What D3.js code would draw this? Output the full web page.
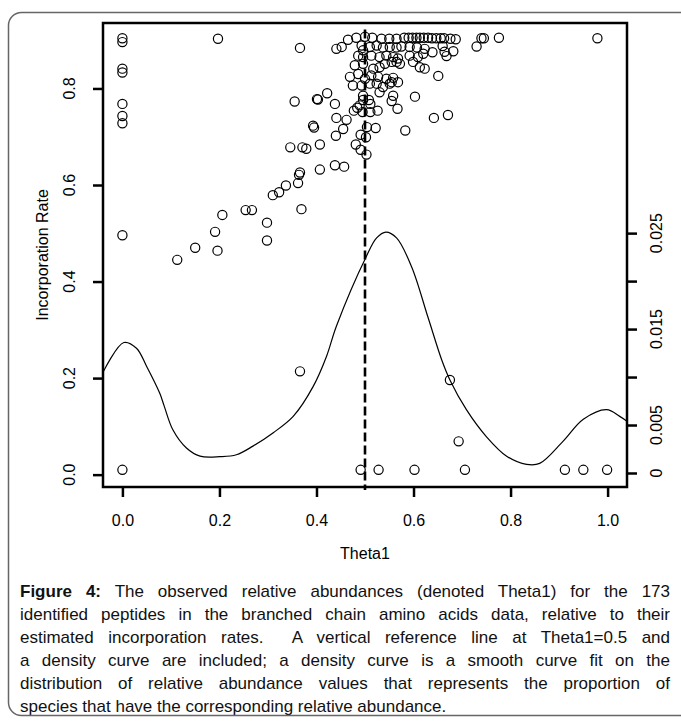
<!DOCTYPE html>
<html>
<head>
<meta charset="utf-8">
<script src="https://cdnjs.cloudflare.com/ajax/libs/d3/7.8.5/d3.min.js"></script>
<style>
  body { margin: 0; background: #fff; }
  #wrap { position: relative; width: 681px; height: 726px; overflow: hidden;
          font-family: "Liberation Sans", Arial, sans-serif; }
  #caption { position: absolute; left: 20px; top: 580px; width: 650px;
             font-size: 17px; line-height: 23px; color: #111; }
  #caption div { text-align: justify; text-align-last: justify; }
  #caption div.last { text-align-last: left; }
</style>
</head>
<body>
<div id="wrap"><div id="caption"></div></div>
<script>
// observed relative abundance (Theta1) and incorporation rate, one entry per peptide
var theta1 = [
  0, 0, 0, 0, 0, 0, 0, 0, 0,
  0.197,
  0.113, 0.150, 0.191, 0.196, 0.206, 0.254, 0.267, 0.298, 0.298, 0.310, 0.323, 0.337, 0.362, 0.364, 0.366, 0.369, 0.366,
  0.346, 0.371, 0.379, 0.407, 0.407, 0.438, 0.457, 0.440, 0.441, 0.438, 0.393, 0.395, 0.355, 0.401, 0.403, 0.366, 0.422,
  0.465, 0.482, 0.500, 0.515, 0.534, 0.550, 0.565, 0.581, 0.590, 0.598, 0.606, 0.613, 0.621, 0.630, 0.638, 0.647, 0.656, 0.663, 0.676, 0.687, 0.730, 0.740, 0.745, 0.776, 0.979,
  0.441, 0.452, 0.493, 0.496, 0.510, 0.524, 0.537, 0.551, 0.565, 0.575, 0.592, 0.607, 0.623, 0.639, 0.660, 0.664, 0.668, 0.682, 0.651,
  0.486, 0.496, 0.513, 0.530, 0.544, 0.558, 0.568, 0.592, 0.609, 0.620,
  0.479, 0.496, 0.517, 0.530, 0.541, 0.555, 0.565, 0.572, 0.599, 0.613, 0.623,
  0.469, 0.486, 0.500, 0.513, 0.527, 0.544, 0.555,
  0.475, 0.493, 0.510, 0.524, 0.537, 0.551, 0.568, 0.558,
  0.496, 0.530, 0.558, 0.603,
  0.477, 0.484, 0.489, 0.496, 0.508, 0.495, 0.511, 0.526, 0.511, 0.555, 0.567, 0.642, 0.462, 0.455, 0.491, 0.502, 0.504, 0.522, 0.583, 0.481, 0.491, 0.503, 0.671,
  0.491, 0.528, 0.602, 0.706, 0.912, 0.950, 0.999, 0.693, 0.675
];
var incorpRate = [
  0.904, 0.896, 0.841, 0.833, 0.768, 0.743, 0.728, 0.496, 0.010,
  0.903,
  0.445, 0.470, 0.503, 0.464, 0.538, 0.548, 0.548, 0.522, 0.485, 0.579, 0.585, 0.599, 0.604, 0.621, 0.626, 0.550, 0.214,
  0.678, 0.678, 0.675, 0.684, 0.632, 0.641, 0.638, 0.702, 0.739, 0.768, 0.723, 0.719, 0.773, 0.778, 0.777, 0.884, 0.790,
  0.901, 0.905, 0.907, 0.905, 0.903, 0.903, 0.903, 0.905, 0.905, 0.905, 0.905, 0.905, 0.905, 0.905, 0.904, 0.904, 0.904, 0.904, 0.903, 0.902, 0.887, 0.904, 0.904, 0.905, 0.904,
  0.882, 0.886, 0.889, 0.879, 0.886, 0.889, 0.885, 0.886, 0.885, 0.887, 0.886, 0.885, 0.882, 0.875, 0.888, 0.876, 0.867, 0.877, 0.826,
  0.868, 0.865, 0.868, 0.865, 0.868, 0.865, 0.862, 0.868, 0.865, 0.872,
  0.848, 0.851, 0.841, 0.844, 0.851, 0.855, 0.855, 0.851, 0.855, 0.844, 0.841,
  0.824, 0.830, 0.820, 0.827, 0.824, 0.820, 0.813,
  0.806, 0.806, 0.810, 0.810, 0.803, 0.810, 0.813, 0.822,
  0.785, 0.792, 0.785, 0.783,
  0.754, 0.760, 0.765, 0.776, 0.776, 0.751, 0.751, 0.754, 0.768, 0.774, 0.758, 0.739, 0.735, 0.716, 0.704, 0.699, 0.720, 0.718, 0.713, 0.684, 0.673, 0.663, 0.745,
  0.010, 0.010, 0.010, 0.010, 0.010, 0.010, 0.010, 0.069, 0.196
];

// density curve of Theta1 (right axis)
var densX = [-0.040, 0.003, 0.029, 0.050, 0.077, 0.086, 0.104, 0.132, 0.160, 0.201, 0.235, 0.269, 0.311, 0.352, 0.393, 0.421, 0.441,
             0.503, 0.524, 0.543, 0.565, 0.596, 0.630, 0.658, 0.675, 0.709, 0.750, 0.792, 0.833, 0.860, 0.908, 0.950, 0.998, 1.025, 1.040];
var densY = [0.0105, 0.0136, 0.0130, 0.0111, 0.0083, 0.0070, 0.0045, 0.0026, 0.00175, 0.0017, 0.0019, 0.0028, 0.0042, 0.0059, 0.0090, 0.0122, 0.0153,
             0.0226, 0.0245, 0.0251, 0.0245, 0.0215, 0.0162, 0.0118, 0.0097, 0.0066, 0.0038, 0.00175, 0.0009, 0.0010, 0.0033, 0.0056, 0.0066, 0.0059, 0.0054];

var xTicks = [0, 0.2, 0.4, 0.6, 0.8, 1.0];
var yTicks = [0, 0.2, 0.4, 0.6, 0.8];
var densTicks = [0, 0.005, 0.010, 0.015, 0.020, 0.025];
var densLabels = ["0", "0.005", "", "0.015", "", "0.025"];

var refX = 0.5, refRate = [-0.032, 0.922];

var captionLines = [
  "<b>Figure 4:</b> The observed relative abundances (denoted Theta1) for the 173",
  "identified peptides in the branched chain amino acids data, relative to their",
  "estimated incorporation rates.&nbsp; A vertical reference line at Theta1=0.5 and",
  "a density curve are included; a density curve is a smooth curve fit on the",
  "distribution of relative abundance values that represents the proportion of",
  "species that have the corresponding relative abundance."
];

var width = 681, height = 726;
var box = {left: 103, right: 627, top: 23, bottom: 487};

var svg = d3.select("#wrap")
    .append("svg")
    .attr("width", width)
    .attr("height", height)
    .style("position", "absolute")
    .style("left", 0).style("top", 0);

// rounded frame round the figure
svg.append("rect")
    .attr("x", 8.5).attr("y", 12.5)
    .attr("width", 700).attr("height", 703)
    .attr("rx", 13)
    .attr("fill", "none")
    .attr("stroke", "#666")
    .attr("stroke-width", 1.5);

var x = d3.scaleLinear().domain([-0.04, 1.04]).range([box.left, box.right]);
var y = d3.scaleLinear().domain([-0.0256, 0.9356]).range([box.bottom, box.top]);
var y2 = d3.scaleLinear().domain([-0.00146, 0.0469]).range([box.bottom, box.top]);

var font = "16px";

// bottom axis
var gx = svg.append("g")
    .attr("transform", "translate(0," + box.bottom + ")")
    .call(d3.axisBottom(x).tickValues(xTicks).tickSize(10).tickPadding(18).tickFormat(d3.format(".1f")));
gx.select(".domain").remove();
gx.selectAll("line").attr("stroke-width", 2.5);
gx.selectAll("text").style("font-size", font).style("font-family", "Liberation Sans, Arial");

// left axis, labels turned like R does
var gy = svg.append("g")
    .attr("transform", "translate(" + box.left + ",0)")
    .call(d3.axisLeft(y).tickValues(yTicks).tickSize(10).tickFormat(""));
gy.select(".domain").remove();
gy.selectAll("line").attr("stroke-width", 2.5);
svg.selectAll("ylab")
    .data(yTicks)
    .enter()
    .append("text")
    .attr("transform", function(d) { return "translate(69," + y(d) + ") rotate(-90)"; })
    .attr("text-anchor", "middle")
    .attr("dy", "0.35em")
    .style("font-size", font)
    .text(function(d) { return d3.format(".1f")(d); });

// right axis for the density
var gr = svg.append("g")
    .attr("transform", "translate(" + box.right + ",0)")
    .call(d3.axisRight(y2).tickValues(densTicks).tickSize(10).tickFormat(""));
gr.select(".domain").remove();
gr.selectAll("line").attr("stroke-width", 2.5);
svg.selectAll("rlab")
    .data(densTicks)
    .enter()
    .append("text")
    .attr("transform", function(d) { return "translate(656," + y2(d) + ") rotate(-90)"; })
    .attr("text-anchor", "middle")
    .attr("dy", "0.35em")
    .style("font-size", font)
    .text(function(d, i) { return densLabels[i]; });

// axis titles
svg.append("text")
    .attr("x", (box.left + box.right) / 2)
    .attr("y", 559)
    .attr("text-anchor", "middle")
    .style("font-size", font)
    .text("Theta1");
svg.append("text")
    .attr("transform", "translate(42," + (box.top + box.bottom) / 2 + ") rotate(-90)")
    .attr("text-anchor", "middle")
    .attr("dy", "0.35em")
    .style("font-size", font)
    .text("Incorporation Rate");

// clip for the density line
svg.append("clipPath").attr("id", "plotclip")
    .append("rect")
    .attr("x", box.left).attr("y", box.top)
    .attr("width", box.right - box.left).attr("height", box.bottom - box.top);

var dens = densX.map(function(d, i) { return [d, densY[i]]; });
svg.append("path")
    .datum(dens)
    .attr("clip-path", "url(#plotclip)")
    .attr("fill", "none")
    .attr("stroke", "#000")
    .attr("stroke-width", 1.2)
    .attr("d", d3.line()
        .x(function(d) { return x(d[0]); })
        .y(function(d) { return y2(d[1]); })
        .curve(d3.curveCatmullRom.alpha(0.5)));

// the points
var pts = theta1.map(function(d, i) { return [d, incorpRate[i]]; });
svg.selectAll("pts")
    .data(pts)
    .enter()
    .append("circle")
    .attr("cx", function(d) { return x(d[0]); })
    .attr("cy", function(d) { return y(d[1]); })
    .attr("r", 4.6)
    .attr("fill", "none")
    .attr("stroke", "#000")
    .attr("stroke-width", 1.2);

// reference line at Theta1 = 0.5
svg.append("line")
    .attr("x1", x(refX)).attr("x2", x(refX))
    .attr("y1", y(refRate[1])).attr("y2", y(refRate[0]))
    .attr("stroke", "#000")
    .attr("stroke-width", 2.6)
    .attr("stroke-dasharray", "9,4");

// plot box
svg.append("rect")
    .attr("x", box.left).attr("y", box.top)
    .attr("width", box.right - box.left).attr("height", box.bottom - box.top)
    .attr("fill", "none")
    .attr("stroke", "#000")
    .attr("stroke-width", 2.5);

// caption
d3.select("#caption")
    .selectAll("div")
    .data(captionLines)
    .enter()
    .append("div")
    .attr("class", function(d, i) { return i === captionLines.length - 1 ? "last" : null; })
    .html(function(d) { return d; });
</script>
</body>
</html>
